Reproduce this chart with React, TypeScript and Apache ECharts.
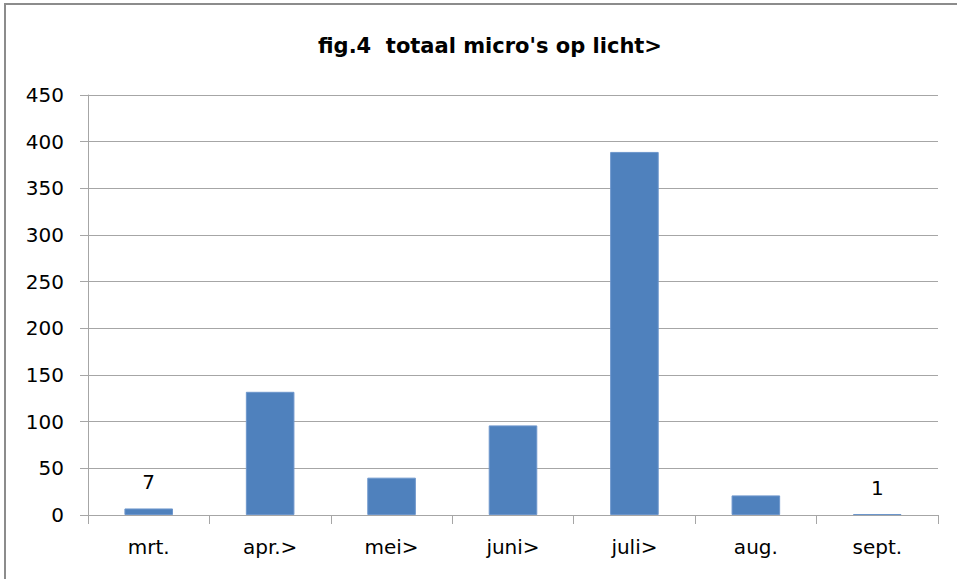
import React, { useEffect, useRef } from "react";
import * as echarts from "echarts";

const categories = ["mrt.", "apr.>", "mei>", "juni>", "juli>", "aug.", "sept."];
const values = [7, 132, 40, 96, 389, 21, 1];
const labelledIndices = [0, 6];
const title = "fig.4  totaal micro's op licht>";

export default function App() {
  const ref = useRef<HTMLDivElement>(null);
  useEffect(() => {
    document.body.style.margin = "0";
    const chart = echarts.init(ref.current!, null, { renderer: "svg" });
    const font = "'DejaVu Sans', sans-serif";
    chart.setOption({
      animation: false,
      backgroundColor: "#ffffff",
      title: {
        text: title,
        left: 485,
        top: 30,
        textAlign: "center",
        textStyle: { fontFamily: font, fontWeight: "bold", fontSize: 21, color: "#000" },
      },
      graphic: [
        {
          type: "rect",
          shape: { x: 5, y: 4, width: 1000, height: 700 },
          style: { fill: "none", stroke: "#8c8c8c", lineWidth: 2 },
          silent: true,
        },
      ],
      grid: { left: 88, right: 19, top: 95, bottom: 64 },
      xAxis: {
        type: "category",
        data: categories,
        axisLine: { lineStyle: { color: "#a6a6a6", width: 1 } },
        axisTick: { show: true, length: 9, interval: 0, alignWithLabel: false, lineStyle: { color: "#a6a6a6" } },
        axisLabel: { fontFamily: font, fontSize: 20, color: "#000", margin: 22 },
      },
      yAxis: {
        type: "value",
        min: 0,
        max: 450,
        interval: 50,
        axisLine: { show: true, lineStyle: { color: "#a6a6a6", width: 1 } },
        axisTick: { show: true, length: 8, inside: false, lineStyle: { color: "#a6a6a6" } },
        axisLabel: { fontFamily: font, fontSize: 20, color: "#000", margin: 24 },
        splitLine: { lineStyle: { color: "#a6a6a6", width: 1 } },
      },
      series: [
        {
          type: "bar",
          data: values.map((v, i) => ({
            value: v,
            label: {
              show: labelledIndices.includes(i),
              position: "top",
              distance: 16,
              fontFamily: font,
              fontSize: 20,
              color: "#000",
            },
          })),
          barCategoryGap: "60%",
          itemStyle: { color: "#4f81bd", borderColor: "#6d96cc", borderWidth: 1 },
        },
      ],
    });
    return () => chart.dispose();
  }, []);
  return <div ref={ref} style={{ width: 957, height: 579 }} />;
}
